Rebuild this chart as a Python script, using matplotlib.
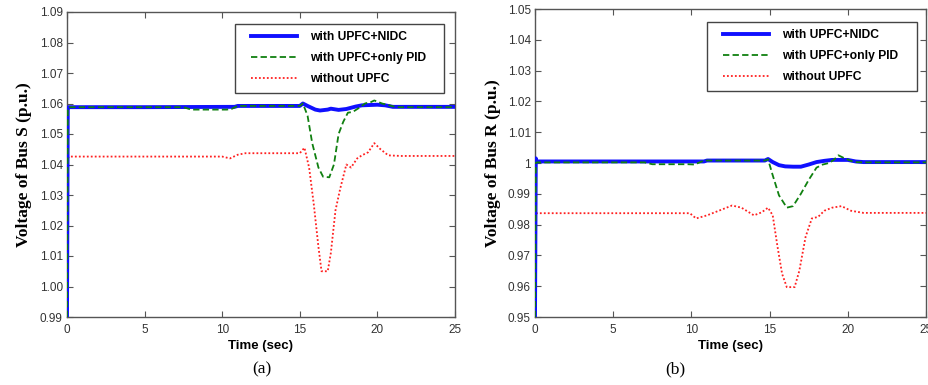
import matplotlib
matplotlib.use("Agg")
import matplotlib.pyplot as plt
from matplotlib.legend_handler import HandlerLine2D

# ---------------- data: panel (a) Bus S ----------------
t_nidc_a = [0, 0.05, 0.1, 5, 10.8, 11.0, 15.0, 15.2, 15.5, 16.0, 16.3, 16.8, 17.0, 17.5, 18.0, 18.6, 19.0, 20.0, 20.5, 21.0, 25]
v_nidc_a = [0.99, 1.0585, 1.0588, 1.0588, 1.0589, 1.0592, 1.0592, 1.0600, 1.0592, 1.0580, 1.0577, 1.0580, 1.0583, 1.0579, 1.0582, 1.0590, 1.0594, 1.0596, 1.0594, 1.0589, 1.0589]

t_pid_a = [0, 0.05, 0.1, 7.5, 8.0, 10.3, 10.6, 11.0, 15.0, 15.2, 15.5, 15.8, 16.2, 16.5, 16.9, 17.2, 17.5, 17.8, 18.1, 18.4, 18.8, 19.2, 19.6, 19.8, 20.3, 20.7, 21.2, 25]
v_pid_a = [0.99, 1.0580, 1.0588, 1.0588, 1.0580, 1.0580, 1.0582, 1.0592, 1.0592, 1.0600, 1.0560, 1.0470, 1.0390, 1.0360, 1.0358, 1.0400, 1.0500, 1.0540, 1.0570, 1.0572, 1.0585, 1.0600, 1.0605, 1.0610, 1.0600, 1.0595, 1.0588, 1.0588]

t_no_a = [0, 0.05, 0.1, 10.0, 10.5, 11.0, 11.5, 13.0, 15.0, 15.3, 15.6, 15.9, 16.2, 16.4, 16.8, 17.0, 17.3, 17.6, 18.0, 18.3, 18.7, 19.0, 19.4, 19.8, 20.2, 20.7, 21.5, 25]
v_no_a = [0.99, 1.0400, 1.0426, 1.0426, 1.0420, 1.0432, 1.0437, 1.0437, 1.0437, 1.0455, 1.0390, 1.0270, 1.0130, 1.0050, 1.0050, 1.0110, 1.0250, 1.0320, 1.0400, 1.0390, 1.0420, 1.0430, 1.0440, 1.0470, 1.0450, 1.0430, 1.0428, 1.0428]

# ---------------- data: panel (b) Bus R ----------------
t_nidc_b = [0, 0.05, 0.1, 5, 10.8, 11.0, 14.7, 14.9, 15.2, 15.6, 16.0, 16.5, 17.0, 17.5, 18.0, 18.5, 19.0, 20.0, 20.5, 21.0, 25]
v_nidc_b = [0.95, 1.0015, 1.0005, 1.0005, 1.0005, 1.0008, 1.0008, 1.0013, 1.0003, 0.9993, 0.9989, 0.9988, 0.9988, 0.9995, 1.0003, 1.0007, 1.0010, 1.0010, 1.0005, 1.0003, 1.0003]

t_pid_b = [0, 0.05, 0.1, 7.0, 7.5, 9.8, 10.2, 10.8, 14.7, 14.9, 15.2, 15.6, 16.1, 16.5, 17.0, 17.5, 18.0, 18.4, 18.8, 19.1, 19.4, 19.8, 20.4, 21, 25]
v_pid_b = [0.95, 1.0000, 1.0002, 1.0002, 0.9996, 0.9996, 0.9995, 1.0008, 1.0008, 1.0012, 0.9960, 0.9895, 0.9855, 0.9860, 0.9900, 0.9945, 0.9985, 0.9995, 1.0000, 1.0010, 1.0025, 1.0015, 1.0003, 1.0002, 1.0002]

t_no_b = [0, 0.05, 0.1, 9.9, 10.3, 11.0, 12.6, 13.2, 14.0, 14.5, 14.9, 15.2, 15.5, 15.8, 16.1, 16.6, 16.9, 17.3, 17.7, 18.1, 18.5, 19.0, 19.6, 20.2, 21.0, 25]
v_no_b = [0.95, 0.9830, 0.9837, 0.9837, 0.9820, 0.9830, 0.9862, 0.9855, 0.9830, 0.9840, 0.9855, 0.9830, 0.9730, 0.9640, 0.9597, 0.9597, 0.9650, 0.9760, 0.9820, 0.9825, 0.9845, 0.9855, 0.9860, 0.9845, 0.9838, 0.9838]

labels = ["with UPFC+NIDC", "with UPFC+only PID", "without UPFC"]
yticks_a = [0.99, 1.00, 1.01, 1.02, 1.03, 1.04, 1.05, 1.06, 1.07, 1.08, 1.09]
yticklabels_a = ["0.99", "1.00", "1.01", "1.02", "1.03", "1.04", "1.05", "1.06", "1.07", "1.08", "1.09"]
yticks_b = [0.95, 0.96, 0.97, 0.98, 0.99, 1.00, 1.01, 1.02, 1.03, 1.04, 1.05]
yticklabels_b = ["0.95", "0.96", "0.97", "0.98", "0.99", "1", "1.01", "1.02", "1.03", "1.04", "1.05"]
xticks = [0, 5, 10, 15, 20, 25]

W, H = 929, 385
fig = plt.figure(figsize=(W / 100, H / 100), dpi=100)

def px_axes(l, t, r, b):
    return fig.add_axes([l / W, 1 - b / H, (r - l) / W, (b - t) / H])

ax_a = px_axes(67, 12, 455, 317)
ax_b = px_axes(535, 9, 926, 317)

panels = [
    (ax_a, (t_nidc_a, v_nidc_a), (t_pid_a, v_pid_a), (t_no_a, v_no_a), yticks_a, yticklabels_a,
     "Voltage of Bus S (p.u.)", "(a)", 262, (235, 24, 444, 94), 5.5),
    (ax_b, (t_nidc_b, v_nidc_b), (t_pid_b, v_pid_b), (t_no_b, v_no_b), yticks_b, yticklabels_b,
     "Voltage of Bus R (p.u.)", "(b)", 675, (707, 22, 917, 92), 5),
]

spine_col = "#555555"
for ax, nidc, pid, no, yt, ytl, ylab, cap, capx, legbox, lpad in panels:
    ax.plot(no[0], no[1], color="#ff2020", ls=(0, (1, 1.2)), lw=1.3, label=labels[2], zorder=2)
    ax.plot(nidc[0], nidc[1], color="#1010ff", ls="-", lw=2.8, label=labels[0], zorder=3)
    ax.plot(pid[0], pid[1], color="#108010", ls=(0, (3.5, 1.8)), lw=1.3, label=labels[1], zorder=4)
    ax.set_xlim(0, 25)
    ax.set_ylim(yt[0], yt[-1])
    ax.set_xticks(xticks)
    ax.set_xticklabels([str(x) for x in xticks])
    ax.set_yticks(yt)
    ax.set_yticklabels(ytl)
    ax.tick_params(direction="in", top=True, right=True, length=4, width=0.8,
                   colors=spine_col, labelcolor="#333333", labelsize=8.5, pad=3)
    ax.tick_params(axis="x", pad=5)
    for lab in ax.get_xticklabels() + ax.get_yticklabels():
        lab.set_family("Liberation Sans")
    for s in ax.spines.values():
        s.set_color(spine_col)
        s.set_linewidth(1.0)
    ax.set_ylabel(ylab, family="Liberation Serif", fontweight="bold", fontsize=12.5, labelpad=lpad)
    ax.set_xlabel("Time (sec)", family="Liberation Sans", fontweight="bold", fontsize=9.5, labelpad=3)
    h, l = ax.get_legend_handles_labels()
    order = [1, 2, 0]
    lx0, ly0, lx1, ly1 = legbox
    hm = {hh: HandlerLine2D(xpad=0.7) for hh in h}
    leg = ax.legend([h[i] for i in order], [l[i] for i in order],
                    loc="upper left",
                    bbox_to_anchor=(lx0 / W, 1 - ly1 / H, (lx1 - lx0) / W, (ly1 - ly0) / H),
                    bbox_transform=fig.transFigure, mode="expand",
                    frameon=True, fancybox=False, edgecolor="#444444", framealpha=1,
                    prop={"family": "Liberation Sans", "weight": "bold", "size": 8.7},
                    handlelength=4.5, handletextpad=1.1, labelspacing=0.75,
                    borderpad=0.6, borderaxespad=0, handler_map=hm)
    leg.get_frame().set_linewidth(1.0)
    fig.text(capx / W, 1 - 369 / H, cap, family="Liberation Serif", fontsize=12.5,
             ha="center", va="center")

fig.savefig("out.png", dpi=100)
